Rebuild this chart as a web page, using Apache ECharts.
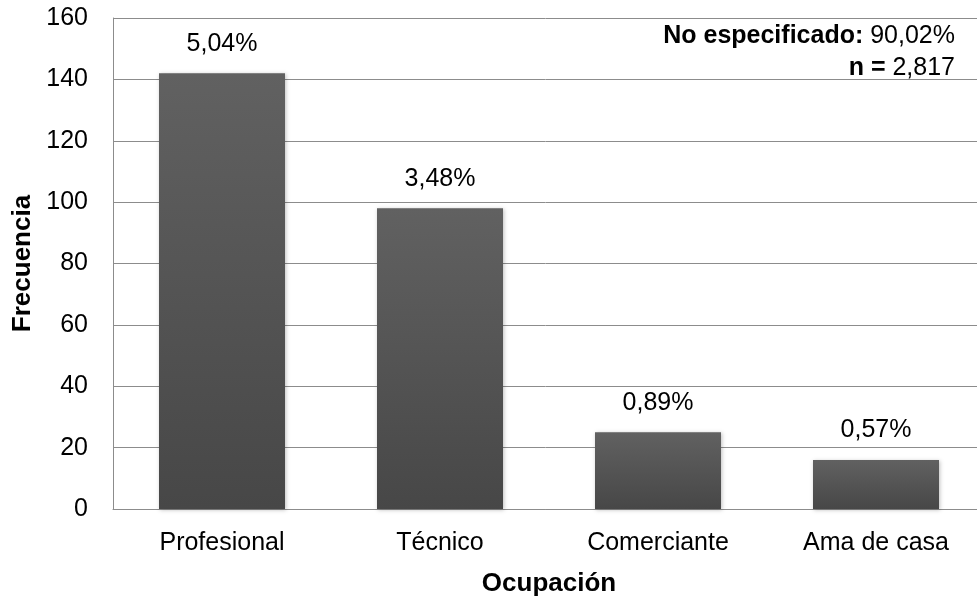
<!DOCTYPE html>
<html>
<head>
<meta charset="utf-8">
<script src="https://cdn.jsdelivr.net/npm/echarts@6/dist/echarts.min.js"></script>
<style>
  html, body { margin: 0; padding: 0; background: #fff; }
  #chart { width: 977px; height: 596px; }
</style>
</head>
<body>
<div id="chart"></div>
<script>
// chart data
var categories = ['Profesional', 'Técnico', 'Comerciante', 'Ama de casa']
var frecuencia = [142, 98, 25, 16]
var porcentajes = ['5,04%', '3,48%', '0,89%', '0,57%']
var yTicks = [0, 20, 40, 60, 80, 100, 120, 140, 160]

var font = '"Liberation Sans", Arial, sans-serif'
var chart = echarts.init(document.getElementById('chart'))

chart.setOption({
  animation: false,
  textStyle: { fontFamily: font },
  grid: {
    left: 113,
    right: -8,
    top: 18,
    bottom: 87,
    outerBoundsMode: 'none',
    containLabel: false
  },
  graphic: [
    {
      type: 'text',
      right: 22,
      top: 24,
      style: {
        text: '{b|No especificado:} 90,02%',
        font: '25px ' + font,
        fill: '#000',
        rich: {
          b: { fontWeight: 'bold', fontSize: 25, fontFamily: font, fill: '#000' }
        }
      }
    },
    {
      type: 'text',
      right: 22,
      top: 56,
      style: {
        text: '{b|n =} 2,817',
        font: '25px ' + font,
        fill: '#000',
        rich: {
          b: { fontWeight: 'bold', fontSize: 25, fontFamily: font, fill: '#000' }
        }
      }
    }
  ],
  xAxis: {
    type: 'category',
    data: categories,
    name: 'Ocupación',
    nameLocation: 'middle',
    nameGap: 62,
    nameTextStyle: { color: '#000', fontSize: 26, fontWeight: 'bold', fontFamily: font },
    axisLine: { lineStyle: { color: '#8c8c8c', width: 1 } },
    axisTick: { show: false },
    axisLabel: { color: '#000', fontSize: 25, margin: 22, fontFamily: font }
  },
  yAxis: {
    type: 'value',
    min: yTicks[0],
    max: yTicks[yTicks.length - 1],
    interval: 20,
    name: 'Frecuencia',
    nameLocation: 'middle',
    nameGap: 77,
    nameRotate: 90,
    nameTextStyle: { color: '#000', fontSize: 26, fontWeight: 'bold', fontFamily: font },
    axisLine: { show: true, lineStyle: { color: '#8c8c8c', width: 1 } },
    axisTick: { show: false },
    splitLine: { lineStyle: { color: '#8c8c8c', width: 1 } },
    axisLabel: { color: '#000', fontSize: 25, margin: 25, fontFamily: font }
  },
  series: [
    {
      type: 'bar',
      data: frecuencia,
      barWidth: 126,
      itemStyle: {
        color: new echarts.graphic.LinearGradient(0, 0, 0, 1, [
          { offset: 0, color: '#616161' },
          { offset: 1, color: '#474747' }
        ]),
        shadowColor: 'rgba(0,0,0,0.25)',
        shadowBlur: 4,
        shadowOffsetX: 1,
        shadowOffsetY: 1
      },
      label: {
        show: true,
        position: 'top',
        distance: 17,
        color: '#000',
        fontSize: 25,
        fontFamily: font,
        formatter: function (p) {
          return porcentajes[p.dataIndex]
        }
      }
    }
  ]
})
</script>
</body>
</html>
